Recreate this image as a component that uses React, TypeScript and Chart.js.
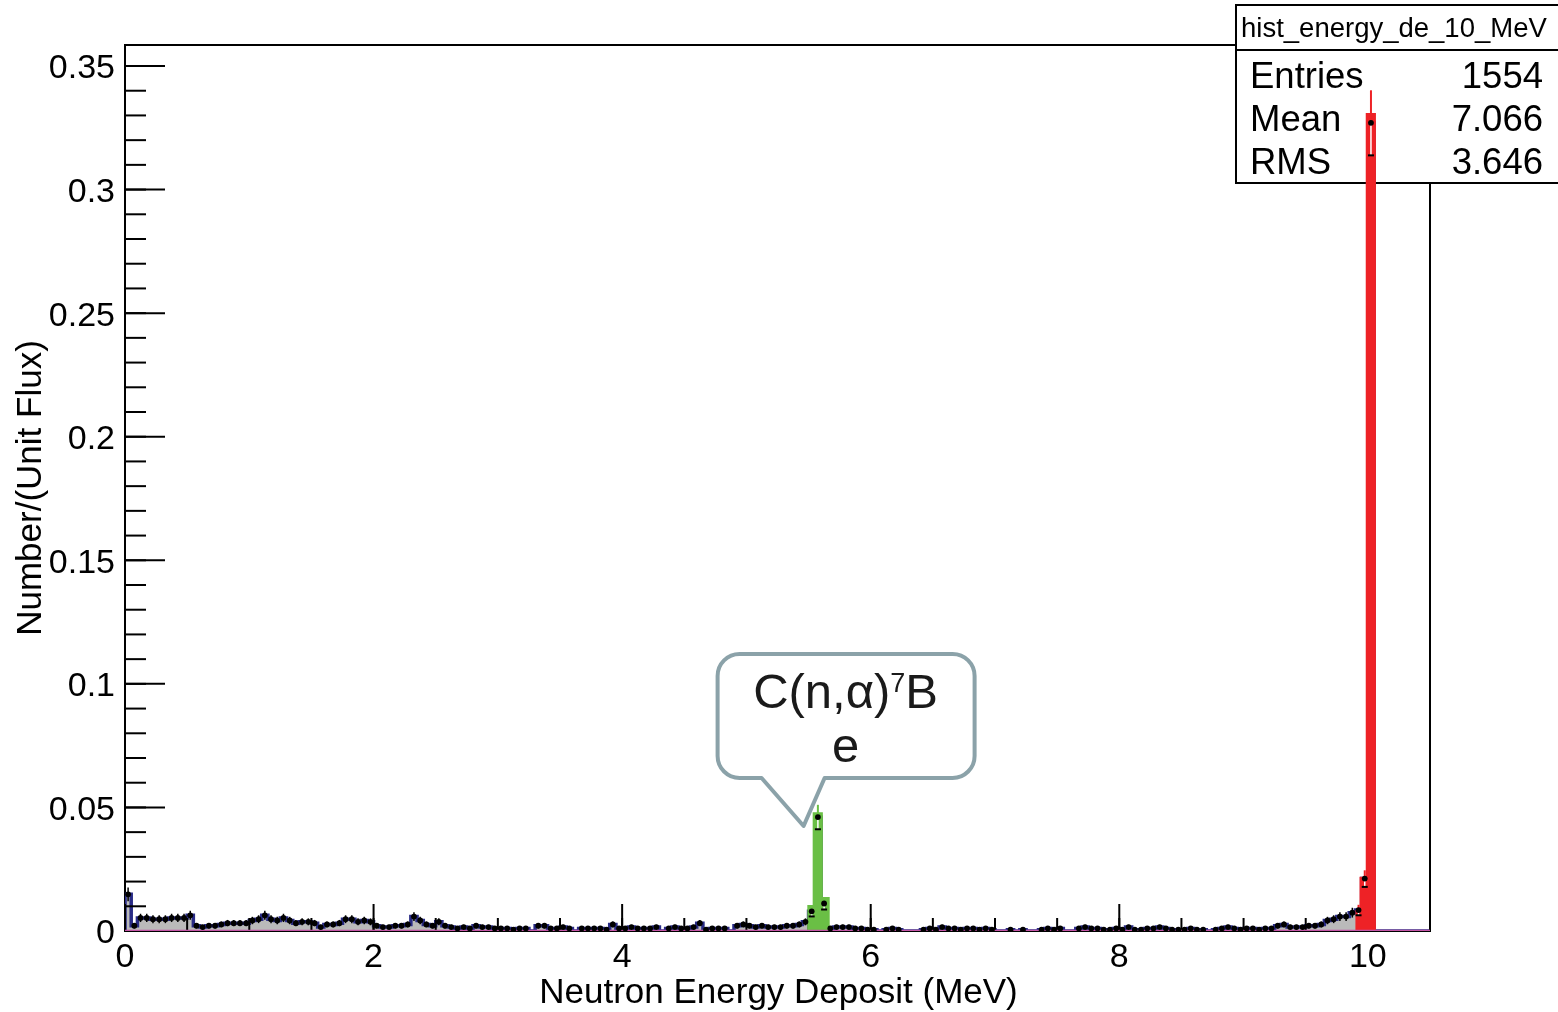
import { useEffect, useRef } from "react";
import { Chart, registerables } from "chart.js";

Chart.register(...registerables);

// ---------- data ----------
const HIST_NAME = "hist_energy_de_10_MeV";
const X_TITLE = "Neutron Energy Deposit (MeV)";
const Y_TITLE = "Number/(Unit Flux)";
const X_RANGE = [0, 10.5];
const Y_RANGE = [0, 0.3585];
const BIN_WIDTH = 0.05;
const COUNT_WEIGHT = 0.00053; // value of one entry, Number/(Unit Flux)

// entries per 0.05 MeV bin, 0 .. 10.5 MeV
const BIN_COUNTS = [
  28, 4, 10, 10, 9, 9, 9, 10, 10, 10, 12, 4, 3, 4, 4, 5, 6, 6, 6, 6,
  8, 9, 12, 9, 8, 10, 8, 6, 7, 7, 6, 3, 5, 5, 6, 9, 9, 7, 8, 7,
  4, 3, 3, 4, 4, 5, 11, 8, 5, 4, 7, 4, 3, 2, 3, 2, 4, 3, 3, 2,
  2, 2, 1, 2, 2, 0, 4, 4, 2, 2, 3, 2, 0, 2, 2, 2, 2, 1, 5, 2,
  2, 3, 2, 2, 2, 3, 0, 2, 3, 2, 2, 3, 6, 1, 2, 2, 2, 0, 4, 5,
  4, 3, 4, 3, 3, 3, 4, 4, 5, 7, 15, 87, 21, 2, 3, 3, 3, 2, 2, 1,
  1, 0, 1, 2, 1, 0, 0, 0, 1, 2, 1, 3, 2, 2, 1, 2, 2, 1, 2, 1,
  0, 0, 1, 0, 1, 0, 0, 1, 2, 1, 2, 0, 0, 2, 3, 2, 2, 1, 1, 2,
  1, 3, 1, 1, 2, 2, 3, 2, 1, 1, 1, 2, 1, 1, 0, 1, 2, 3, 2, 1,
  2, 2, 1, 2, 2, 4, 5, 3, 3, 3, 4, 4, 5, 8, 9, 11, 11, 14, 16, 40,
  617, 0, 0, 0, 0, 0, 0, 0, 0, 0,
];

const X_MAJOR_TICKS = [0, 2, 4, 6, 8, 10];
const X_TICK_LABELS = ["0", "2", "4", "6", "8", "10"];
const X_MINOR_STEP = 0.5;
const Y_MAJOR_TICKS = [0, 0.05, 0.1, 0.15, 0.2, 0.25, 0.3, 0.35];
const Y_TICK_LABELS = ["0", "0.05", "0.1", "0.15", "0.2", "0.25", "0.3", "0.35"];
const Y_MINOR_STEP = 0.01;

// highlighted peaks (coloured bands drawn over the histogram)
const GREEN_EDGES = [5.49, 5.533, 5.615, 5.67];
const GREEN_HEIGHTS = [0.0105, 0.048, 0.0138];
const RED_EDGES = [9.9, 9.933, 9.983, 10.065];
const RED_HEIGHTS = [0.0085, 0.022, 0.331];

const STATS_LABELS = ["Entries", "Mean", "RMS"];
const STATS_VALUES = ["1554", "7.066", "3.646"];

const CALLOUT_MAIN = "C(n,\u03b1)";
const CALLOUT_SUP = "7";
const CALLOUT_TAIL = "B";
const CALLOUT_LINE2 = "e";
const CALLOUT_TIP = [5.46, 0.0425];

// ---------- style ----------
const FONT = '"Liberation Sans", Arial, Helvetica, sans-serif';
const GRAY_FILL = "#bababa";
const BLUE_LINE = "#292b86";
const MAGENTA = "#c455a6";
const GREEN = "#6abf45";
const RED = "#ee2226";
const CALLOUT_BORDER = "#8ba2a9";

const BANDS = [
  { edges: GREEN_EDGES, heights: GREEN_HEIGHTS, color: GREEN },
  { edges: RED_EDGES, heights: RED_HEIGHTS, color: RED },
];

function bandFor(x: number) {
  return BANDS.find((b) => x >= b.edges[0] && x <= b.edges[b.edges.length - 1]);
}

function histPoints() {
  const pts: { x: number; y: number }[] = [{ x: X_RANGE[0], y: 0 }];
  BIN_COUNTS.forEach((c, i) => {
    const v = c * COUNT_WEIGHT;
    const x0 = X_RANGE[0] + i * BIN_WIDTH;
    pts.push({ x: x0, y: v }, { x: x0 + BIN_WIDTH, y: v });
  });
  pts.push({ x: X_RANGE[0] + BIN_COUNTS.length * BIN_WIDTH, y: 0 });
  return pts;
}

function markerPoints() {
  const pts: { x: number; y: number }[] = [];
  BIN_COUNTS.forEach((c, i) => {
    if (c > 0) pts.push({ x: X_RANGE[0] + (i + 0.5) * BIN_WIDTH, y: c * COUNT_WEIGHT });
  });
  return pts;
}

function seg(ctx: CanvasRenderingContext2D, x1: number, y1: number, x2: number, y2: number) {
  ctx.beginPath();
  ctx.moveTo(x1, y1);
  ctx.lineTo(x2, y2);
  ctx.stroke();
}

const STATS_BOX = { left: 1236, top: 5, right: 1560, titleBottom: 50, bottom: 183 };

function drawTicks(chart: any) {
  const { ctx, chartArea: a } = chart;
  const xs = chart.scales.x;
  const ys = chart.scales.y;
  ctx.save();
  ctx.strokeStyle = "#000";
  ctx.lineWidth = 2;
  const nY = Math.floor(Y_RANGE[1] / Y_MINOR_STEP + 1e-9);
  for (let k = 0; k <= nY; k++) {
    const py = ys.getPixelForValue(k * Y_MINOR_STEP);
    seg(ctx, a.left, py, a.left + 21, py);
  }
  Y_MAJOR_TICKS.forEach((v) => {
    const py = ys.getPixelForValue(v);
    seg(ctx, a.left, py, a.left + 40, py);
  });
  const nX = Math.floor(X_RANGE[1] / X_MINOR_STEP + 1e-9);
  for (let k = 0; k <= nX; k++) {
    const px = xs.getPixelForValue(k * X_MINOR_STEP);
    seg(ctx, px, a.bottom, px, a.bottom - 13);
  }
  X_MAJOR_TICKS.forEach((v) => {
    const px = xs.getPixelForValue(v);
    seg(ctx, px, a.bottom, px, a.bottom - 27);
  });
  ctx.restore();
}

function drawBands(chart: any) {
  const { ctx, chartArea: a } = chart;
  const xs = chart.scales.x;
  const ys = chart.scales.y;
  ctx.save();
  ctx.beginPath();
  ctx.rect(a.left, a.top, a.right - a.left, a.bottom - a.top);
  ctx.clip();
  BANDS.forEach((b) => {
    const y0 = ys.getPixelForValue(0);
    ctx.beginPath();
    ctx.moveTo(xs.getPixelForValue(b.edges[0]), y0);
    b.heights.forEach((h, i) => {
      const py = ys.getPixelForValue(h);
      ctx.lineTo(xs.getPixelForValue(b.edges[i]), py);
      ctx.lineTo(xs.getPixelForValue(b.edges[i + 1]), py);
    });
    ctx.lineTo(xs.getPixelForValue(b.edges[b.edges.length - 1]), y0);
    ctx.closePath();
    ctx.fillStyle = b.color;
    ctx.fill();
  });
  ctx.restore();
}

function drawErrorBars(chart: any) {
  const { ctx, chartArea: a } = chart;
  const xs = chart.scales.x;
  const ys = chart.scales.y;
  ctx.save();
  ctx.beginPath();
  ctx.rect(a.left, a.top - 60, a.right - a.left, a.bottom - a.top + 60);
  ctx.clip();
  BIN_COUNTS.forEach((c, i) => {
    if (c <= 0) return;
    const center = X_RANGE[0] + (i + 0.5) * BIN_WIDTH;
    const v = c * COUNT_WEIGHT;
    const e = Math.sqrt(c) * COUNT_WEIGHT;
    const px = xs.getPixelForValue(center);
    const yv = ys.getPixelForValue(v);
    const yl = ys.getPixelForValue(v - e);
    const yh = ys.getPixelForValue(v + e);
    const band = bandFor(center);
    if (band) {
      ctx.strokeStyle = band.color;
      ctx.lineWidth = 2;
      seg(ctx, px, yl, px, yh);
      ctx.strokeStyle = "#fff";
      ctx.lineWidth = 1.5;
      seg(ctx, px, yl, px, yv);
      ctx.strokeStyle = "#000";
      ctx.lineWidth = 2;
      seg(ctx, px - 3, yl, px + 3, yl);
    } else {
      ctx.strokeStyle = "#000";
      ctx.lineWidth = 1.5;
      seg(ctx, px, yl, px, yh);
    }
  });
  ctx.restore();
}

const rootPlugin = {
  id: "rootLook",
  beforeDatasetsDraw(chart: any) {
    const { ctx, chartArea: a } = chart;
    ctx.save();
    ctx.strokeStyle = "#000";
    ctx.lineWidth = 2;
    ctx.strokeRect(a.left, a.top, a.right - a.left, a.bottom - a.top);
    // stats box
    const b = STATS_BOX;
    ctx.fillStyle = "#fff";
    ctx.fillRect(b.left, b.top, b.right - b.left, b.bottom - b.top);
    ctx.strokeRect(b.left, b.top, b.right - b.left, b.bottom - b.top);
    seg(ctx, b.left, b.titleBottom, b.right, b.titleBottom);
    ctx.fillStyle = "#000";
    ctx.textBaseline = "alphabetic";
    ctx.textAlign = "left";
    ctx.font = `27.5px ${FONT}`;
    ctx.fillText(HIST_NAME, b.left + 5, b.top + 32);
    ctx.font = `36.5px ${FONT}`;
    STATS_LABELS.forEach((l, i) => {
      ctx.textAlign = "left";
      ctx.fillText(l, b.left + 14, b.titleBottom + 38 + i * 43);
      ctx.textAlign = "right";
      ctx.fillText(STATS_VALUES[i], 1543, b.titleBottom + 38 + i * 43);
    });
    ctx.restore();
  },
  afterDatasetDraw(chart: any, args: any) {
    const label = chart.data.datasets[args.index].label;
    if (label === "hist") {
      drawTicks(chart);
      drawBands(chart);
    } else if (label === "zero") {
      drawErrorBars(chart);
    }
  },
  afterDraw(chart: any) {
    const { ctx, chartArea: a } = chart;
    const xs = chart.scales.x;
    const ys = chart.scales.y;
    ctx.save();
    // axis titles
    ctx.fillStyle = "#000";
    ctx.font = `35px ${FONT}`;
    ctx.textAlign = "center";
    ctx.textBaseline = "alphabetic";
    ctx.fillText(X_TITLE, (a.left + a.right) / 2 + 1, a.bottom + 72);
    ctx.save();
    ctx.translate(41, (a.top + a.bottom) / 2);
    ctx.rotate(-Math.PI / 2);
    ctx.fillText(Y_TITLE, 0, 0);
    ctx.restore();

    // callout
    const tx = xs.getPixelForValue(CALLOUT_TIP[0]);
    const ty = ys.getPixelForValue(CALLOUT_TIP[1]);
    const L = tx - 86;
    const R = tx + 171;
    const T = ty - 172;
    const B = ty - 48;
    const r = 22;
    ctx.beginPath();
    ctx.moveTo(L + r, T);
    ctx.lineTo(R - r, T);
    ctx.arcTo(R, T, R, T + r, r);
    ctx.lineTo(R, B - r);
    ctx.arcTo(R, B, R - r, B, r);
    ctx.lineTo(tx + 21, B);
    ctx.lineTo(tx, ty);
    ctx.lineTo(tx - 42, B);
    ctx.lineTo(L + r, B);
    ctx.arcTo(L, B, L, B - r, r);
    ctx.lineTo(L, T + r);
    ctx.arcTo(L, T, L + r, T, r);
    ctx.closePath();
    ctx.fillStyle = "#fff";
    ctx.fill();
    ctx.lineWidth = 4;
    ctx.lineJoin = "round";
    ctx.strokeStyle = CALLOUT_BORDER;
    ctx.stroke();

    const cx = tx + 42;
    ctx.fillStyle = "#1a1a1a";
    ctx.textAlign = "left";
    ctx.font = `49px ${FONT}`;
    const w1 = ctx.measureText(CALLOUT_MAIN).width;
    const w3 = ctx.measureText(CALLOUT_TAIL).width;
    ctx.font = `27px ${FONT}`;
    const w2 = ctx.measureText(CALLOUT_SUP).width;
    const start = cx - (w1 + w2 + w3) / 2;
    const base1 = ty - 118;
    ctx.font = `49px ${FONT}`;
    ctx.fillText(CALLOUT_MAIN, start, base1);
    ctx.fillText(CALLOUT_TAIL, start + w1 + w2, base1);
    ctx.font = `27px ${FONT}`;
    ctx.fillText(CALLOUT_SUP, start + w1, base1 - 16);
    ctx.font = `49px ${FONT}`;
    ctx.textAlign = "center";
    ctx.fillText(CALLOUT_LINE2, cx, ty - 64);
    ctx.restore();
  },
};

export default function App() {
  const ref = useRef<HTMLCanvasElement>(null);

  useEffect(() => {
    const canvas = ref.current;
    if (!canvas) return;
    const chart = new Chart(canvas, {
      type: "line",
      data: {
        datasets: [
          {
            label: "hist",
            data: histPoints(),
            borderColor: BLUE_LINE,
            borderWidth: 3.5,
            backgroundColor: GRAY_FILL,
            fill: "origin",
            pointRadius: 0,
            tension: 0,
            borderJoinStyle: "miter",
            order: 3,
          },
          {
            label: "zero",
            data: [
              { x: X_RANGE[0], y: 0 },
              { x: X_RANGE[1], y: 0 },
            ],
            borderColor: MAGENTA,
            borderWidth: 2.5,
            pointRadius: 0,
            fill: false,
            order: 2,
          },
          {
            label: "markers",
            data: markerPoints(),
            showLine: false,
            pointRadius: 2.9,
            pointBackgroundColor: "#000",
            pointBorderWidth: 0,
            pointStyle: "circle",
            order: 1,
          },
        ],
      },
      options: {
        responsive: false,
        devicePixelRatio: 1,
        animation: false,
        events: [],
        layout: { padding: { left: 0, top: 45, right: 128, bottom: 0 } },
        plugins: { legend: { display: false }, tooltip: { enabled: false }, title: { display: false } },
        scales: {
          x: {
            type: "linear",
            min: X_RANGE[0],
            max: X_RANGE[1],
            grid: { display: false, drawTicks: false },
            border: { display: false },
            afterBuildTicks: (s: any) => {
              s.ticks = X_MAJOR_TICKS.map((v) => ({ value: v }));
            },
            afterFit: (s: any) => {
              s.height = 81;
            },
            ticks: {
              autoSkip: false,
              maxRotation: 0,
              padding: 6,
              color: "#000",
              font: { family: FONT, size: 34 },
              callback: (_v: any, i: number) => X_TICK_LABELS[i],
            },
          },
          y: {
            type: "linear",
            min: Y_RANGE[0],
            max: Y_RANGE[1],
            grid: { display: false, drawTicks: false },
            border: { display: false },
            afterBuildTicks: (s: any) => {
              s.ticks = Y_MAJOR_TICKS.map((v) => ({ value: v }));
            },
            afterFit: (s: any) => {
              s.width = 125;
            },
            ticks: {
              autoSkip: false,
              padding: 10,
              labelOffset: 3,
              color: "#000",
              font: { family: FONT, size: 34 },
              callback: (_v: any, i: number) => Y_TICK_LABELS[i],
            },
          },
        },
      } as any,
      plugins: [rootPlugin],
    });
    return () => chart.destroy();
  }, []);

  return (
    <div style={{ position: "fixed", left: 0, top: 0, width: 1558, height: 1012, background: "#fff", overflow: "hidden" }}>
      <canvas ref={ref} width={1558} height={1012} style={{ display: "block" }} />
    </div>
  );
}
